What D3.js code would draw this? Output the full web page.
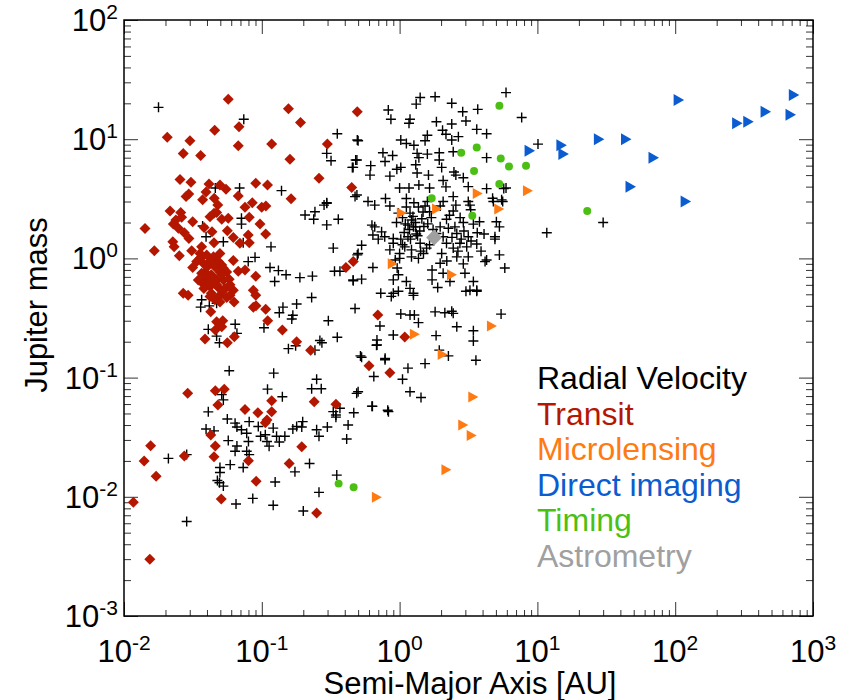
<!DOCTYPE html>
<html><head><meta charset="utf-8">
<script src="https://cdn.jsdelivr.net/npm/d3@7"></script>
<style>
body{margin:0;background:#fff}
svg{display:block;font-family:Arial,"Liberation Sans",Helvetica,sans-serif}
</style>
</head><body>
<svg id="chart" width="842" height="700"></svg>
<script>
// Planet discoveries: [semi-major axis (AU), mass (Jupiter masses)]
const radialVelocity = [
 [0.0372,1.87],[0.0394,1.52],[0.0526,1.38],[0.0712,2.17],[0.0712,1.94],[0.0733,1.35],[0.0797,0.94],[0.0893,1.02],[0.1166,1.25],[0.1147,0.84],[0.132,0.79],[0.150,0.73],[0.124,0.64],[0.189,0.69],[0.233,0.71],[0.230,0.47],[0.206,2.31],[0.243,2.46],[0.238,2.13],[0.296,2.9],[0.296,1.91],[0.359,2.13],[0.330,1.22],[0.337,0.78],[0.369,0.78],[0.461,0.65],[0.493,1.07],[0.0366,0.45],[0.036,0.39],[0.0416,0.40],[0.047,0.42],[0.0641,0.28],[0.066,0.235],[0.0409,0.254],[0.047,0.223],[0.0493,0.196],[0.1037,0.262],[0.134,0.35],[0.1424,0.39],[0.165,0.31],[0.168,0.333],[0.179,0.415],[0.304,0.30],[0.353,0.218],[0.264,0.205],[0.273,0.196],[0.243,0.17],[0.156,0.175],[0.176,0.185],[0.475,0.38],
 [5.92,24.6],[1.81,22.7],[1.41,22.4],[1.32,19.7],[2.39,20],[0.828,17.6],[0.865,14.7],[1.19,14.7],[1.17,13.6],[1.85,14],[2.87,17],[3.69,17.8],[3.03,14.2],[2.39,13.4],[2.05,11.9],[2.17,11],[3.63,12.1],[4.28,11.1],[7.69,15.2],[2.67,10.5],[2.39,9.85],[1.59,10.8],[1.53,9.7],[1.02,9.85],[1.12,9.2],[1.27,8.9],[0.50,9.7],[0.757,7.7],[0.89,7.3],[1.34,7.6],[1.59,7.5],[1.94,7.7],[1.94,6.7],[2.45,7.85],[4.28,7.0],[0.48,6.7],[0.46,5.8],[0.617,6.0],[0.784,6.5],[0.61,5.0],[0.955,5.6],[1.02,5.8],[1.31,6.1],[1.38,7.0],[2.02,5.8],[2.48,5.3],[2.56,5.0],[2.9,4.75],[1.62,5.0],[1.34,5.2],[0.85,4.9],[1.0,3.9],[1.17,3.9],[1.38,4.13],[1.65,3.9],[2.07,4.5],[2.17,3.98],[3.15,4.0],[4.28,3.85],[5.92,3.9],[0.475,3.3],[0.59,3.0],[0.66,2.8],[0.79,3.18],[0.85,2.75],[1.12,3.18],[1.27,2.93],[1.37,2.7],[1.59,3.0],[1.53,2.75],[1.65,2.46],[2.07,3.0],[1.97,2.75],[2.45,3.3],[2.56,2.8],[2.45,2.5],[3.15,3.0],[3.24,2.8],[3.28,2.56],[4.79,3.0],[5.6,3.0],[5.04,2.03],[5.3,1.84],[4.92,1.45],[5.3,1.07],[5.8,0.83],[4.17,0.94],[11.7,1.64],[0.66,1.84],[0.74,1.67],[0.78,1.52],[0.9,1.47],[1.02,1.45],[1.15,1.52],[1.32,1.6],[1.12,2.7],[1.19,2.4],[1.22,2.1],[1.26,1.84],[1.15,1.9],[1.31,1.84],[2.19,2.13],[2.26,1.79],[2.52,1.84],[2.6,1.62],[2.93,1.7],[3.15,1.52],[3.66,1.64],[3.43,1.94],[3.8,2.03],[1.97,1.84],[1.85,1.62],[2.07,1.52],[1.41,1.34],[1.57,1.22],[1.49,1.10],[1.22,1.18],[1.09,1.25],[1.0,1.10],[0.9,1.34],[0.85,1.18],[0.93,0.97],[1.0,1.0],[1.22,1.03],[1.37,1.0],[2.19,1.34],[2.45,1.22],[2.74,1.34],[3.07,1.25],[3.63,1.32],[3.15,1.03],[2.6,1.03],[2.02,1.10],[0.96,0.83],[0.98,0.73],[0.9,0.66],[1.12,0.64],[1.19,0.56],[1.26,0.51],[0.9,0.51],[1.72,0.80],[1.97,0.91],[1.72,0.66],[2.07,0.75],[2.32,0.64],[2.98,0.75],[3.43,0.64],[3.24,0.54],[3.63,0.54],[4.28,0.97],[0.63,1.9],[0.64,1.57],[0.70,1.45],[0.53,1.29],[0.50,1.10],[0.46,0.66],[0.53,0.67],[0.64,0.84],[0.73,0.51],[10.1,9.1],
 [1.05,2.2],[1.1,1.95],[1.18,1.75],[1.25,2.25],[1.3,2.0],[1.4,1.7],[1.45,2.15],[1.35,1.55],[1.08,1.65],[1.2,1.45],[1.5,1.85],[1.6,1.95],[1.7,2.2],[1.75,1.75],[1.48,2.45],[1.05,1.3],[0.95,2.0],[0.98,2.4],[1.42,1.15],[1.65,1.3],
 [2.3,2.3],[2.75,2.2],[2.9,2.0],[2.4,1.5],[2.8,1.45],[3.3,1.4],[2.65,1.15],[3.9,1.15],[4.1,1.6],[2.2,0.95],[2.9,0.9],
 [0.058,0.114],[0.122,0.109],[0.25,0.097],[0.23,0.0807],[0.27,0.0807],[0.11,0.080],[0.141,0.069],[0.0512,0.072],[0.0526,0.065],[0.0409,0.0516],[0.0562,0.0449],[0.0394,0.037],[0.045,0.0357],[0.064,0.0415],[0.066,0.0385],[0.0712,0.0365],[0.081,0.0427],[0.0777,0.0341],[0.08,0.0291],[0.0777,0.0241],[0.081,0.0226],[0.0571,0.0296],[0.066,0.0267],[0.064,0.0241],[0.059,0.0186],[0.0497,0.0176],[0.0497,0.016],[0.0476,0.0137],[0.0526,0.0123],[0.0493,0.0131],[0.0733,0.0176],[0.0943,0.0389],[0.098,0.0322],[0.106,0.0332],[0.109,0.0291],[0.113,0.0266],[0.121,0.0377],[0.128,0.0322],[0.134,0.0288],[0.147,0.0322],[0.168,0.037],[0.179,0.0389],[0.195,0.0385],[0.198,0.0427],[0.25,0.0365],[0.26,0.0322],[0.299,0.0385],[0.33,0.0518],[0.345,0.0486],[0.369,0.0553],[0.345,0.0466],[0.423,0.040],[0.465,0.0507],[0.413,0.0305],[0.488,0.0738],[0.50,0.076],[0.65,0.102],[0.635,0.0574],[0.785,0.145],[0.68,0.187],[0.52,0.152],[0.82,0.0532],[0.35,0.0152],[0.26,0.0109],[0.222,0.019],[0.174,0.0162],[0.125,0.0133],[0.2,0.0076],[0.121,0.0085],[0.086,0.0097],[0.065,0.0087],[0.0285,0.0062],[0.021,0.021],[0.0285,0.0226],
 [1.02,0.342],[1.19,0.335],[1.28,0.335],[1.37,0.289],[0.72,0.271],[0.9,0.228],[0.685,0.207],[0.685,0.188],[1.84,0.225],[1.81,0.356],[2.13,0.35],[2.39,0.36],[2.45,0.346],[2.6,0.267],[3.43,0.247],[3.43,0.203],[5.45,0.341],[1.94,0.17],[2.26,0.152],[3.58,0.14],[0.784,0.141],[0.53,0.148],[1.53,0.131],[1.15,0.12],[1.05,0.097],[1.19,0.076],[1.43,0.068],[0.63,0.0576],[0.83,0.0518],[0.98,0.53],[1.26,0.49],[0.87,0.48],[3.63,0.53],[3.03,0.53],[1.89,0.57],
 [0.0178,18.5],[0.074,14.7],[0.353,11.1],[0.493,9.85],[0.296,7.6],[0.318,6.6],[0.454,5.8],[0.49,6.7],[0.49,3.4],[0.046,3.9],[0.069,3.9],[0.139,3.7],[0.296,2.93],[0.283,2.8],
 [30,2.0],[4.73,3.2],[5.5,3.1],[5.7,3.85],[4.92,1.52]
];
const transit = [
 [0.0571,21.6],[0.0206,10.4],[0.0301,9.7],[0.0269,7.6],[0.036,7.3],[0.0455,11.9],[0.0683,12.7],[0.0675,8.8],[0.156,18.0],[0.191,13.8],[0.118,9.1],[0.160,6.8],[0.299,9.1],[0.493,17],[0.260,4.7],[0.449,3.94],[0.0255,4.6],[0.0306,4.35],[0.0414,4.2],[0.0497,4.13],[0.055,3.8],[0.0904,4.27],[0.110,4.13],[0.0394,3.6],[0.0295,3.47],[0.0282,3.3],[0.0372,3.1],[0.0452,3.2],[0.0675,3.34],[0.0853,2.93],[0.0755,2.68],[0.0479,2.8],[0.0998,2.68],[0.107,2.75],[0.163,3.16],[0.0216,2.5],[0.0258,2.43],[0.047,2.43],
 [0.0142,1.78],[0.0166,1.16],[0.0262,2.21],[0.0238,2.10],[0.0228,1.94],[0.0248,1.79],[0.0274,1.64],[0.0296,1.47],[0.0315,2.03],[0.0226,1.38],[0.0231,1.25],[0.0252,1.05],[0.031,1.16],[0.0421,2.24],[0.045,2.39],[0.0381,1.82],[0.0435,1.67],[0.0512,2.13],[0.0571,2.17],[0.0562,1.71],[0.0621,1.50],[0.0811,2.21],[0.097,1.94],[0.1067,1.60],[0.0811,1.35],[0.045,1.35],[0.0366,1.25],[0.0356,1.10],[0.0398,1.07],[0.0446,1.03],[0.0497,1.10],[0.0337,0.94],[0.0376,0.91],[0.0421,0.94],[0.0484,0.94],[0.0512,0.88],[0.0621,0.96],[0.0315,0.84],[0.0387,0.77],[0.043,0.73],[0.0497,0.77],[0.0556,0.77],[0.0398,0.68],[0.047,0.66],[0.0526,0.66],[0.058,0.67],[0.0372,0.62],[0.0421,0.58],[0.0484,0.57],[0.054,0.56],[0.0621,0.54],[0.043,0.51],[0.0497,0.49],[0.0556,0.47],[0.0269,0.51],[0.0292,0.49],[0.0629,0.43],[0.0426,0.357],[0.047,0.294],[0.0521,0.30],[0.0512,0.267],[0.046,0.251],[0.0387,0.211],[0.0632,0.22],[0.0562,0.196],[0.0675,0.78],[0.0755,0.80],[0.0904,0.71],[0.0868,0.54],[0.0904,0.49],[0.0868,0.39],[0.0908,0.40],[0.1067,0.375],[0.1103,0.30],[0.141,0.251],[0.179,0.20],[0.226,0.17],[0.408,0.84],[0.461,0.94],[0.0693,1.34],[0.0797,1.57],
 [0.0356,1.0],[0.0402,0.85],[0.0457,0.85],[0.0526,0.826],[0.0366,0.75],[0.0346,0.66],[0.0409,0.62],[0.047,0.60],[0.0512,0.73],[0.0457,0.66],[0.038,0.56],[0.0526,0.54],[0.0588,0.60],[0.0457,0.45],[0.0497,0.43],[0.0421,0.48],[0.0588,0.49],
 [0.029,0.0738],[0.046,0.0776],[0.0534,0.080],[0.048,0.059],[0.0755,0.054],[0.0937,0.0508],[0.118,0.064],[0.118,0.0518],[0.109,0.044],[0.106,0.0419],[0.24,0.0628],[0.345,0.0597],[0.60,0.126],[0.85,0.11],[0.0156,0.0268],[0.0140,0.020],[0.0171,0.0149],[0.0274,0.022],[0.0426,0.033],[0.046,0.0267],[0.045,0.0217],[0.08,0.0201],[0.091,0.0135],[0.0508,0.0096],[0.195,0.0263],[0.158,0.019],[0.25,0.0073],[0.0117,0.009],[0.0154,0.003],
 [0.695,0.335],[1.09,0.219]
];
const microlensing = [
 [3.63,3.5],[5.2,2.6],[8.4,3.7],[1.84,2.6],[1.02,2.4],[0.877,0.90],[2.36,0.73],[1.27,0.231],[2.02,0.156],[4.6,0.271],[3.37,0.0687],[2.85,0.040],[3.28,0.0326],[2.15,0.0169],[0.673,0.0099]
];
const directImaging = [
 [8.7,8.0],[14.8,8.9],[15.3,7.5],[27.7,10.0],[43.6,10.0],[69,7.0],[105,21.3],[47,4.0],[118,3.0],[279,13.6],[336,14.0],[449,17.0],[681,16.0],[720,23.5]
];
const timing = [
 [5.3,19.1],[2.8,7.7],[3.63,8.5],[5.42,6.9],[6.22,5.9],[8.27,6.0],[3.47,5.4],[5.29,4.2],[23,2.5],[1.71,3.2],[3.37,2.28],[0.361,0.0129],[0.464,0.012]
];
const astrometry = [[1.78,1.50]];

const methodNames = ["Radial Velocity","Transit","Microlensing","Direct imaging","Timing","Astrometry"];
const xExponents = [-2,-1,0,1,2,3];
const yExponents = [-3,-2,-1,0,1,2];

const frame = {l:124, r:813, t:20, b:616};

const svg = d3.select("#chart");
const x = d3.scaleLog().domain([1e-2,1e3]).range([frame.l,frame.r]);
const y = d3.scaleLog().domain([1e-3,1e2]).range([frame.b,frame.t]);

// log ticks: majors at decades, minors at 2..9
function minorTicks(exps){
  const out=[];
  for(let i=0;i<exps.length-1;i++) for(let k=2;k<=9;k++) out.push(k*Math.pow(10,exps[i]));
  return out;
}
const xMajor = xExponents.map(e=>Math.pow(10,e)), yMajor = yExponents.map(e=>Math.pow(10,e));
const xMinor = minorTicks(xExponents), yMinor = minorTicks(yExponents);

function drawTicks(axisFn, scale, values, size, tx, ty){
  const g = svg.append("g").attr("transform",`translate(${tx},${ty})`)
    .call(axisFn(scale).tickValues(values).tickSize(size).tickSizeOuter(0).tickFormat(""));
  g.select(".domain").remove();
  g.selectAll(".tick line").attr("stroke","#333").attr("stroke-width",1);
}
// inward ticks on all four sides
drawTicks(d3.axisBottom, x, xMinor, -6, 0, frame.b);
drawTicks(d3.axisBottom, x, xMajor, -14, 0, frame.b);
drawTicks(d3.axisTop, x, xMinor, -6, 0, frame.t);
drawTicks(d3.axisTop, x, xMajor, -14, 0, frame.t);
drawTicks(d3.axisLeft, y, yMinor, -7, frame.l, 0);
drawTicks(d3.axisLeft, y, yMajor, -14, frame.l, 0);
drawTicks(d3.axisRight, y, yMinor, -7, frame.r, 0);
drawTicks(d3.axisRight, y, yMajor, -14, frame.r, 0);

svg.append("rect").attr("x",frame.l).attr("y",frame.t).attr("width",frame.r-frame.l).attr("height",frame.b-frame.t)
  .attr("fill","none").attr("stroke","#000").attr("stroke-width",1.5);

// tick labels as 10^n
function powerLabel(sel, e){
  sel.append("tspan").text("10");
  sel.append("tspan").attr("font-size",21).attr("dy",-12).text(e);
}
xExponents.forEach(e=>{
  const t = svg.append("text").attr("x",x(Math.pow(10,e))).attr("y",662)
    .attr("text-anchor","middle").attr("font-size",31).attr("fill","#000");
  powerLabel(t,e);
});
yExponents.forEach(e=>{
  const t = svg.append("text").attr("x",118).attr("y",y(Math.pow(10,e))+11)
    .attr("text-anchor","end").attr("font-size",31).attr("fill","#000");
  powerLabel(t,e);
});

svg.append("text").attr("x",470).attr("y",694).attr("text-anchor","middle")
  .attr("font-size",31).text("Semi-Major Axis [AU]");
svg.append("text").attr("transform",`translate(47,305) rotate(-90)`)
  .attr("text-anchor","middle").attr("font-size",31).text("Jupiter mass");

// markers
const colors = ["#000000","#b51600","#ff7a12","#0a5cd0","#4cbf14","#a0a0a0"];
const plot = svg.append("g");
function pts(data){ return plot.append("g").selectAll("path").data(data).join("path")
  .attr("transform",d=>`translate(${x(d[0])},${y(d[1])})`); }

pts(radialVelocity).attr("d","M-5,0H5M0,-5V5").attr("stroke",colors[0]).attr("stroke-width",1.4).attr("fill","none");
pts(transit).attr("d","M0,-5.5L5.5,0L0,5.5L-5.5,0Z").attr("fill",colors[1]);
pts(microlensing).attr("d","M-4,-5.5L6,0L-4,5.5Z").attr("fill",colors[2]);
pts(directImaging).attr("d","M-4.5,-6L6,0L-4.5,6Z").attr("fill",colors[3]);
pts(timing).attr("d",d3.symbol(d3.symbolCircle,50)()).attr("fill",colors[4]);
pts(astrometry).attr("d","M0,-8L8,0L0,8L-8,0Z").attr("fill",colors[5]);

// legend
methodNames.forEach((name,i)=>{
  svg.append("text").attr("x",537).attr("y",389+i*35.6).attr("font-size",32)
    .attr("fill",colors[i]).text(name);
});
</script>
</body></html>
